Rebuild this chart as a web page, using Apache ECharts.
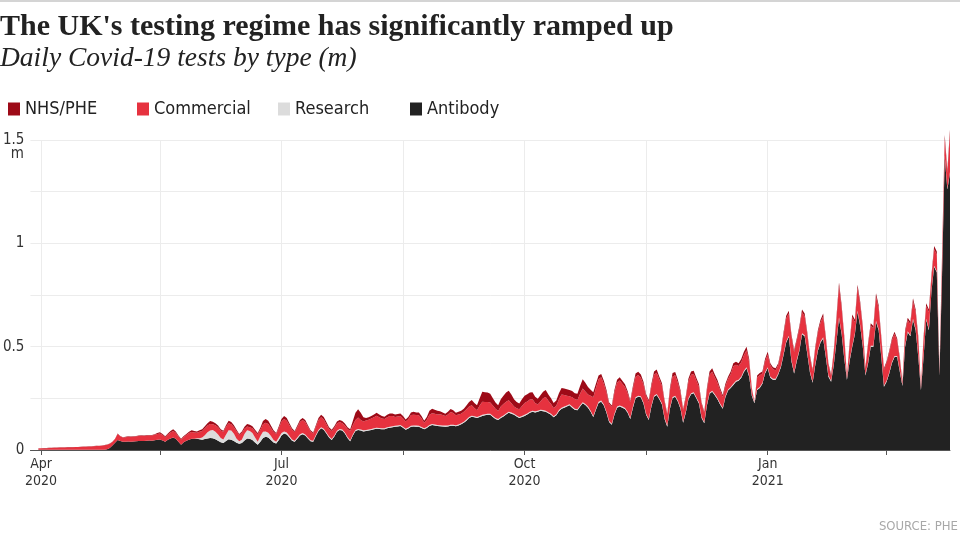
<!DOCTYPE html>
<html><head><meta charset="utf-8">
<script src="https://cdn.jsdelivr.net/npm/echarts@6/dist/echarts.min.js"></script>
<style>html,body{margin:0;padding:0;background:#fff}#c{width:960px;height:555px}</style>
</head><body><div id="c"></div>
<script>
// Daily values (millions), from 2020-03-31 to 2021-03-11
const firstDay = '2020-03-31';
const axisStart = '2020-03-28';
const axisEnd = '2021-03-11';
const tickDates = ['2020-04-01','2020-05-16','2020-07-01','2020-08-16','2020-10-01','2020-11-16','2021-01-01','2021-02-15'];
const labelDates = ['2020-04-01','2020-07-01','2020-10-01','2021-01-01'];
const monthNames = ['Jan','Feb','Mar','Apr','May','Jun','Jul','Aug','Sep','Oct','Nov','Dec'];
const seriesNames = ['NHS/PHE','Commercial','Research','Antibody'];
const yTicks = [0, 0.5, 1, 1.5];

const antibody = [
.001,.001,.001,.001,.001,.001,.001,.001,.001,.001,
.001,.001,.001,.001,.001,.001,.001,.001,.001,.001,
.001,.001,.001,.001,.001,.001,.004,.010,.022,.035,
.048,.043,.040,.040,.041,.040,.041,.042,.043,.044,
.043,.045,.046,.045,.047,.049,.051,.046,.040,.050,
.056,.060,.055,.040,.026,.038,.045,.050,.055,.054,
.055,.052,.050,.053,.056,.058,.057,.052,.045,.038,
.034,.044,.052,.050,.043,.035,.030,.034,.046,.056,
.054,.048,.036,.025,.040,.058,.064,.060,.048,.036,
.032,.048,.070,.080,.075,.060,.045,.040,.055,.070,
.076,.070,.056,.042,.040,.068,.092,.105,.098,.080,
.060,.048,.065,.088,.097,.094,.080,.058,.042,.070,
.092,.097,.094,.090,.092,.094,.097,.100,.103,.102,
.100,.100,.105,.108,.110,.112,.114,.116,.108,.098,
.104,.112,.114,.113,.112,.106,.100,.106,.116,.121,
.118,.116,.115,.114,.113,.114,.117,.117,.115,.118,
.124,.132,.142,.155,.161,.158,.155,.160,.165,.168,
.170,.170,.160,.150,.145,.155,.162,.172,.180,.176,
.170,.162,.155,.160,.165,.172,.180,.185,.182,.185,
.190,.188,.185,.178,.170,.158,.168,.188,.200,.205,
.210,.216,.205,.195,.192,.210,.226,.218,.205,.185,
.160,.195,.228,.234,.215,.180,.135,.122,.170,.205,
.210,.205,.198,.180,.150,.205,.250,.258,.255,.225,
.170,.145,.210,.258,.266,.245,.220,.150,.113,.200,
.252,.258,.235,.200,.132,.180,.245,.270,.274,.250,
.225,.155,.129,.215,.272,.282,.265,.245,.220,.200,
.255,.288,.300,.315,.330,.335,.350,.378,.395,.355,
.262,.226,.290,.300,.320,.370,.395,.350,.340,.340,
.365,.400,.460,.520,.548,.430,.370,.430,.480,.560,
.550,.465,.375,.325,.410,.480,.520,.540,.450,.355,
.330,.410,.520,.637,.560,.440,.340,.430,.500,.560,
.669,.600,.500,.360,.420,.500,.500,.620,.580,.450,
.306,.330,.370,.420,.450,.450,.380,.310,.500,.570,
.550,.630,.580,.450,.290,.450,.630,.580,.770,.887,
.860,.360,.850,1.420,1.260,1.340
];

const research = [
0,0,0,0,0,0,0,0,0,0,
0,0,0,0,0,0,0,0,0,0,
0,0,0,0,0,0,0,0,0,0,
0,0,0,0,0,0,0,0,0,0,
0,0,0,0,0,0,0,0,0,0,
0,0,0,0,0,0,0,0,0,0,
.002,.005,.010,.018,.030,.036,.040,.036,.030,.020,
.017,.030,.044,.044,.036,.020,.012,.016,.032,.040,
.038,.034,.024,.015,.026,.030,.026,.024,.020,.012,
.008,.012,.012,.010,.010,.008,.006,.005,.006,.006,
.006,.005,.005,.005,.005,.005,.005,.005,.005,.005,
.005,.005,.005,.005,.005,.005,.005,.005,.005,.005,
.005,.005,.005,.005,.005,.005,.005,.005,.005,.005,
.005,.005,.005,.005,.005,.005,.005,.005,.005,.005,
.005,.005,.005,.005,.005,.005,.005,.005,.005,.005,
.005,.005,.005,.005,.005,.005,.005,.005,.005,.005,
.005,.005,.005,.005,.005,.005,.005,.005,.005,.005,
.005,.005,.005,.005,.005,.005,.005,.005,.005,.005,
.005,.005,.005,.005,.005,.005,.005,.005,.005,.005,
.005,.005,.005,.005,.005,.005,.005,.005,.005,.005,
.005,.005,.005,.005,.005,.005,.005,.005,.005,.005,
.005,.005,.005,.005,.005,.005,.005,.005,.005,.005,
.005,.005,.005,.005,.005,.005,.005,.005,.005,.005,
.005,.005,.005,.005,.005,.005,.005,.005,.005,.005,
.005,.005,.005,.005,.005,.005,.005,.005,.005,.005,
.005,.005,.005,.005,.005,.005,.005,.005,.005,.005,
.005,.005,.005,.005,.005,.005,.005,.005,.005,.005,
.005,.005,.005,.005,.005,.005,.005,.005,.005,.005,
.005,.005,.005,.005,.005,.005,.005,.005,.005,.005,
.005,.005,.005,.005,.005,.005,.005,.005,.005,.005,
.005,.005,.005,.005,.005,.005,.005,.005,.005,.005,
.005,.005,.005,.005,.005,.005,.005,.005,.005,.005,
.005,.005,.005,.005,.005,.005,.005,.005,.005,.005,
.005,.005,.005,.005,.005,.005,.005,.005,.005,.005,
.005,.005,.005,.005,.005,.005
];

const commercial = [
.006,.007,.008,.008,.009,.009,.010,.010,.011,.011,
.011,.012,.012,.012,.013,.013,.014,.015,.015,.016,
.016,.017,.018,.019,.020,.022,.022,.020,.017,.019,
.030,.023,.020,.022,.023,.023,.023,.024,.025,.025,
.025,.025,.025,.025,.027,.028,.029,.027,.022,.025,
.029,.032,.029,.025,.025,.025,.028,.032,.032,.031,
.027,.031,.032,.034,.032,.032,.028,.032,.035,.036,
.037,.038,.034,.030,.031,.036,.031,.034,.025,.018,
.018,.023,.030,.036,.032,.036,.042,.042,.038,.039,
.037,.047,.056,.060,.057,.052,.047,.042,.049,.059,
.063,.060,.051,.042,.035,.039,.048,.048,.045,.040,
.037,.039,.037,.035,.033,.031,.034,.039,.045,.045,
.048,.055,.046,.043,.046,.047,.051,.054,.058,.052,
.048,.045,.048,.051,.049,.043,.043,.043,.040,.035,
.040,.052,.052,.051,.051,.042,.027,.035,.049,.052,
.052,.051,.053,.050,.046,.053,.062,.057,.048,.049,
.047,.048,.050,.050,.051,.040,.032,.050,.064,.059,
.057,.055,.050,.045,.039,.050,.055,.057,.056,.045,
.035,.035,.037,.048,.057,.058,.059,.056,.041,.030,
.040,.057,.067,.055,.047,.040,.041,.052,.063,.056,
.047,.039,.045,.047,.045,.057,.066,.060,.059,.072,
.090,.100,.109,.113,.101,.093,.082,.081,.103,.115,
.121,.111,.102,.090,.077,.088,.099,.100,.090,.088,
.086,.084,.093,.101,.103,.091,.086,.077,.054,.083,
.099,.099,.086,.074,.056,.065,.081,.089,.089,.081,
.076,.062,.046,.068,.087,.092,.081,.076,.064,.052,
.049,.050,.062,.085,.077,.066,.070,.076,.083,.066,
.027,.000,.057,.057,.045,.053,.062,.055,.046,.041,
.041,.065,.093,.111,.107,.113,.099,.095,.104,.101,
.092,.089,.071,.052,.075,.084,.092,.102,.084,.052,
.023,.056,.102,.152,.121,.094,.009,.075,.138,.053,
.111,.102,.084,.028,.085,.096,.084,.118,.102,.085,
.076,.087,.096,.105,.106,.075,.056,.009,.064,.053,
.053,.085,.082,.085,.009,.085,.062,.083,.060,.079,
.080,.016,.083,.081,.075,.187
];

const nhsPhe = [
.001,.001,.001,.001,.001,.001,.001,.001,.001,.001,
.001,.001,.001,.001,.001,.001,.001,.001,.001,.001,
.001,.001,.001,.001,.001,.001,.001,.001,.001,.001,
.002,.002,.002,.002,.002,.002,.002,.002,.002,.002,
.002,.002,.002,.002,.002,.005,.006,.005,.004,.005,
.007,.008,.006,.005,.004,.005,.005,.006,.008,.007,
.006,.007,.008,.010,.012,.014,.012,.010,.008,.006,
.005,.008,.012,.012,.010,.007,.005,.006,.009,.012,
.012,.010,.008,.006,.010,.016,.018,.016,.012,.008,
.005,.008,.012,.014,.013,.010,.007,.005,.008,.010,
.010,.010,.008,.006,.005,.008,.010,.012,.012,.010,
.008,.006,.008,.010,.010,.010,.009,.008,.008,.020,
.035,.040,.035,.020,.012,.012,.012,.013,.014,.013,
.012,.011,.012,.013,.013,.012,.012,.013,.012,.010,
.011,.013,.014,.013,.013,.012,.010,.014,.020,.022,
.020,.018,.015,.013,.012,.013,.014,.013,.012,.013,
.014,.015,.018,.022,.025,.025,.025,.035,.048,.048,
.046,.042,.035,.030,.028,.035,.040,.044,.046,.042,
.035,.030,.028,.032,.035,.035,.034,.034,.030,.028,
.030,.032,.033,.030,.028,.025,.026,.030,.032,.032,
.032,.030,.030,.028,.030,.038,.045,.042,.036,.030,
.025,.020,.018,.016,.014,.012,.008,.007,.012,.015,
.016,.014,.013,.010,.008,.012,.016,.016,.015,.012,
.009,.008,.012,.016,.016,.014,.012,.008,.006,.012,
.016,.016,.014,.011,.007,.010,.014,.016,.016,.014,
.012,.008,.006,.012,.016,.016,.014,.013,.011,.009,
.011,.012,.013,.015,.015,.014,.015,.016,.017,.014,
.006,.003,.008,.010,.010,.012,.014,.010,.009,.009,
.009,.010,.012,.014,.014,.012,.010,.010,.011,.014,
.013,.011,.009,.008,.010,.011,.013,.014,.011,.008,
.007,.009,.013,.016,.014,.011,.006,.010,.013,.012,
.015,.013,.011,.007,.010,.012,.011,.015,.013,.010,
.008,.008,.009,.010,.011,.010,.009,.006,.011,.012,
.012,.014,.013,.010,.006,.010,.013,.012,.015,.016,
.015,.006,.012,.018,.015,.018
];

const COLORS = {'NHS/PHE':'#9d0a17','Commercial':'#e6323f','Research':'#dcdcdc','Antibody':'#222222'};
const SANS = "'Liberation Sans Narrow','DejaVu Sans Condensed','Arial Narrow',sans-serif";
const SERIF = "'Liberation Serif','DejaVu Serif',serif";

[antibody, research, commercial, nhsPhe].forEach((a,i)=>{ if(a.length!==346) throw new Error('len '+i+' '+a.length); });

// build date categories
function iso(d){return d.toISOString().slice(0,10);}
const cats = [];
for (let t = Date.parse(axisStart+'T00:00:00Z'); t <= Date.parse(axisEnd+'T00:00:00Z'); t += 86400000) cats.push(iso(new Date(t)));
const offset = cats.indexOf(firstDay);
const pad = a => Array(offset).fill(null).concat(a);

const chart = echarts.init(document.getElementById('c'), null, {renderer:'canvas'});
const mk = (name, data) => ({
  name, type:'line', stack:'total', data: pad(data), symbol:'none', showSymbol:false, clip:false,
  lineStyle:{width:0}, areaStyle:{color:COLORS[name], opacity:1}, itemStyle:{color:COLORS[name]},
  emphasis:{disabled:true}, animation:false
});
const legendPos = [8,137,278,410];
chart.setOption({
  animation:false,
  title:[
    {text:"The UK's testing regime has significantly ramped up", left:0, top:12, padding:0,
     textStyle:{fontFamily:SERIF, fontWeight:'bold', fontSize:30, color:'#222'}},
    {text:'Daily Covid-19 tests by type (m)', left:0, top:45, padding:0,
     textStyle:{fontFamily:SERIF, fontStyle:'italic', fontWeight:'normal', fontSize:27.5, color:'#222'}}
  ],
  legend: seriesNames.map((n,i)=>({
    data:[n], left:legendPos[i], top:100, padding:0, icon:'rect', itemWidth:12, itemHeight:13,
    selectedMode:false, textStyle:{fontFamily:SANS, fontSize:18, color:'#222'}
  })),
  grid:{left:30, right:10, top:140, bottom:105},
  xAxis:{
    type:'category', data:cats, boundaryGap:false,
    axisLine:{lineStyle:{color:'#555', width:1}},
    axisTick:{show:true, length:5, lineStyle:{color:'#555'}, interval:(i,v)=>tickDates.includes(cats[i])},
    axisLabel:{interval:(i,v)=>labelDates.includes(cats[i]), fontFamily:SANS, fontSize:14, color:'#333', lineHeight:17, margin:6,
      formatter:v=>monthNames[+v.slice(5,7)-1]+'\n'+v.slice(0,4)},
    splitLine:{show:true, interval:(i,v)=>tickDates.includes(cats[i]), lineStyle:{color:'#ececec'}}
  },
  yAxis:{
    type:'value', min:0, max:1.5, interval:0.25,
    axisLine:{show:false}, axisTick:{show:false},
    axisLabel:{fontFamily:SANS, fontSize:15, color:'#333', margin:6,
      formatter:v=> yTicks.includes(v) ? String(v) : ''},
    splitLine:{lineStyle:{color:'#ececec'}}
  },
  graphic:[
    {type:'rect', left:0, top:0, shape:{width:960, height:2}, style:{fill:'#d4d4d4'}},
    {type:'text', right:936, top:147, style:{text:'m', font:"15px "+SANS, fill:'#333'}},
    {type:'text', right:2, top:520, style:{text:'SOURCE: PHE', font:"13px "+SANS, fill:'#a8a8a8'}}
  ],
  series:[ mk('Antibody', antibody), mk('Research', research), mk('Commercial', commercial), mk('NHS/PHE', nhsPhe) ]
});
</script></body></html>
